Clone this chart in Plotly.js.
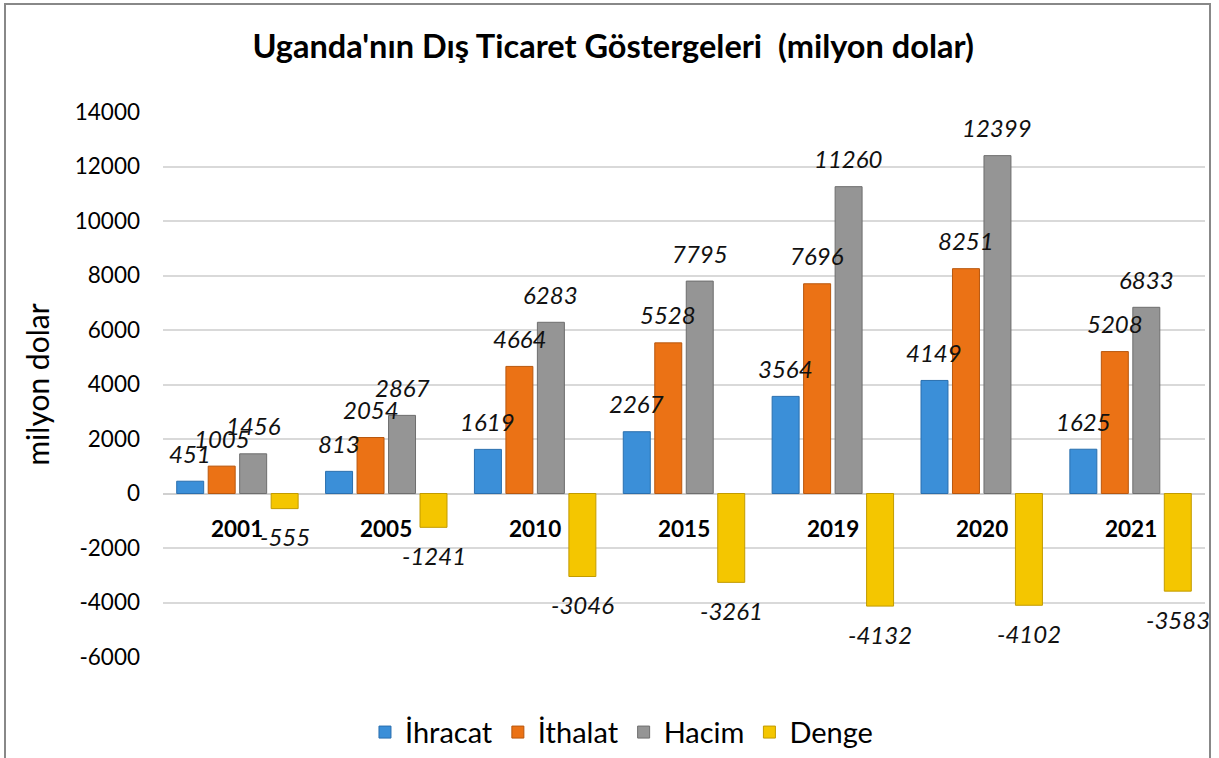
<!DOCTYPE html>
<html><head><meta charset="utf-8">
<script src="https://cdn.plot.ly/plotly-3.0.1.min.js"></script>
<style>body{margin:0;background:#fff}#c{width:1219px;height:758px}#frame{position:absolute;left:4px;top:3px;width:1207px;height:760px;border:2px solid #888;pointer-events:none;box-sizing:border-box}</style>
</head><body><div id="c"></div><div id="frame"></div>
<script>
const years = ['2001','2005','2010','2015','2019','2020','2021'];
const ihracat = [451, 813, 1619, 2267, 3564, 4149, 1625];
const ithalat = [1005, 2054, 4664, 5528, 7696, 8251, 5208];
const hacim = [1456, 2867, 6283, 7795, 11260, 12399, 6833];
const denge = [-555, -1241, -3046, -3261, -4132, -4102, -3583];
const yTickVals = [-6000, -4000, -2000, 0, 2000, 4000, 6000, 8000, 10000, 12000, 14000];
const yTickText = ['-6000', '-4000', '-2000', '0', '2000', '4000', '6000', '8000', '10000', '12000', '14000'];
const seriesNames = ['İhracat', 'İthalat', 'Hacim', 'Denge'];
const colors = ['#3b8fd8', '#eb7215', '#959595', '#f4c600'];
const lineColors = ['#2a6fae', '#b8570e', '#6e6e6e', '#c29b00'];
const vals = [ihracat, ithalat, hacim, denge];
const F = 'Lato, "Open Sans", sans-serif';
const BARGAP = 0.154, SLOT = (1 - BARGAP) / 4;
const traces = vals.map((v, i) => ({
  type: 'bar', x: years, y: v, name: seriesNames[i],
  marker: {color: colors[i], line: {color: lineColors[i], width: 1}},
  hoverinfo: 'x+y'
}));
const ann = years.map((y, i) => ({x: i, y: 0, xref: 'x', yref: 'y', text: '<b>' + y + '</b>', showarrow: false,
  yshift: -35, font: {family: F, size: 22.5, color: '#000'}}));
vals.forEach((v, k) => v.forEach((val, i) => ann.push({
  x: i + (k - 1.5) * SLOT, y: val, xref: 'x', yref: 'y', text: String(val), showarrow: false,
  yshift: val >= 0 ? 28 : -28, font: {family: F, size: 24, color: '#111', style: 'italic'}
})));
Plotly.newPlot('c', traces, {
  width: 1219, height: 758,
  margin: {l: 163, r: 14, t: 112, b: 101},
  paper_bgcolor: '#fff', plot_bgcolor: '#fff',
  title: {text: "<b>Uganda'nın Dış Ticaret Göstergeleri  (milyon dolar)</b>", x: 0.503, xanchor: 'center', y: 0.938, yanchor: 'middle',
    font: {family: F, size: 32.5, color: '#000'}},
  barmode: 'group', bargap: BARGAP, bargroupgap: 0.143,
  xaxis: {type: 'category', range: [-0.5, 6.5], autorange: false, showticklabels: false, showgrid: false, zeroline: false, showline: false, ticks: ''},
  yaxis: {range: [-6000, 14000], tickmode: 'array', tickvals: yTickVals, ticktext: yTickText,
    showgrid: true, gridcolor: '#d9d9d9', gridwidth: 1.5,
    zeroline: true, zerolinecolor: '#d0d0d0', zerolinewidth: 2, showline: false,
    tickfont: {family: F, size: 22.5, color: '#000'}, ticks: '', ticklabelstandoff: 22,
    title: {text: 'milyon dolar', font: {family: F, size: 30, color: '#000'}, standoff: 16}},
  legend: {orientation: 'h', x: 0.44, xanchor: 'center', yref: 'container', y: 0.034, yanchor: 'middle',
    font: {family: F, size: 29, color: '#000'}, itemwidth: 30, traceorder: 'normal'},
  annotations: ann,
  showlegend: true
}, {displayModeBar: false});
</script></body></html>
